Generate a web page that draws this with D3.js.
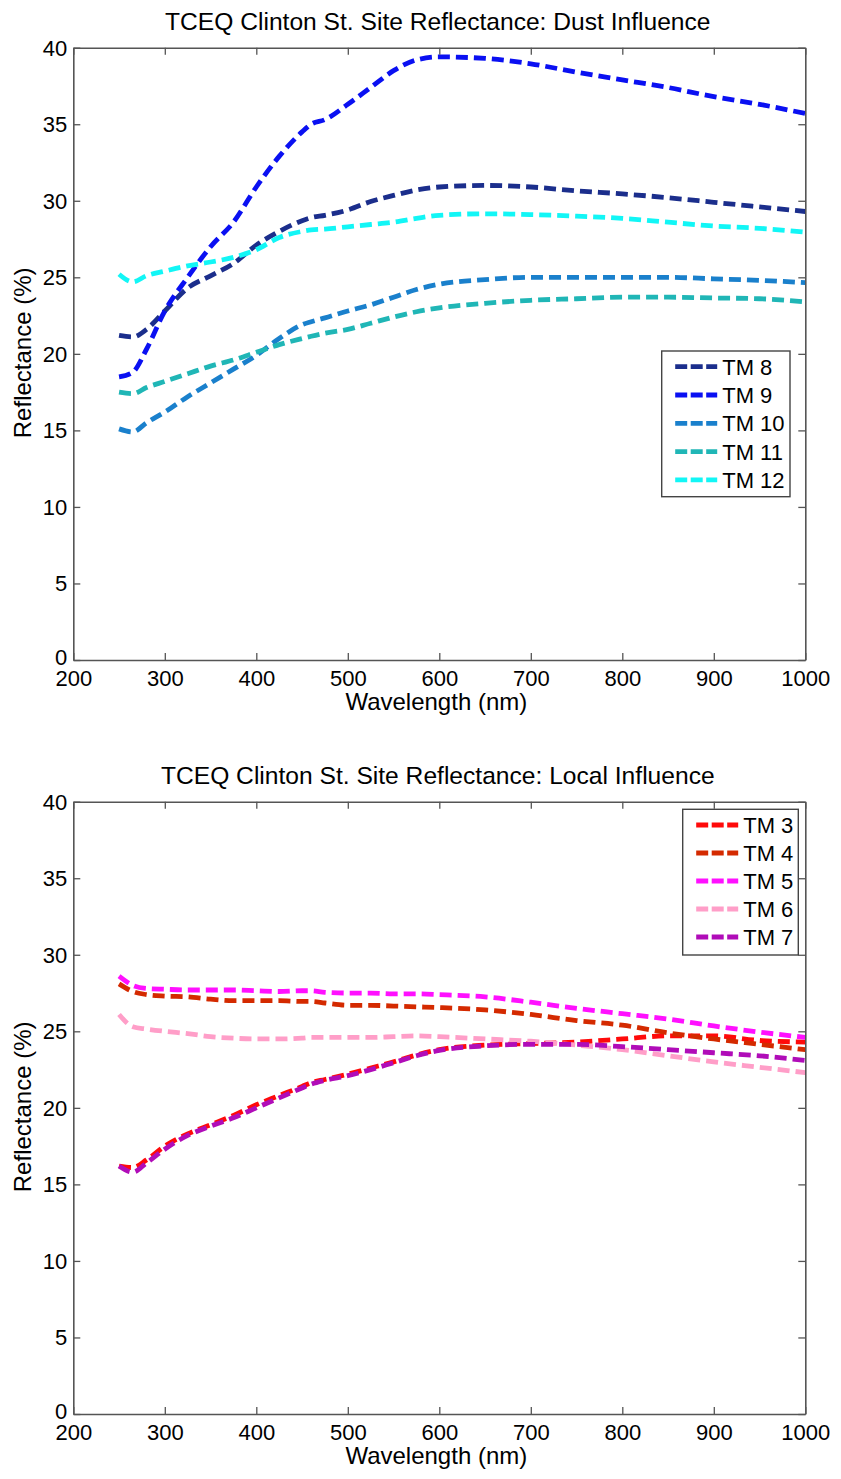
<!DOCTYPE html>
<html>
<head>
<meta charset="utf-8">
<script src="https://cdn.jsdelivr.net/npm/d3@7"></script>
<style>
  html, body { margin: 0; padding: 0; background: #fff; }
  svg { display: block; }
  text { font-family: "Liberation Sans", Arial, sans-serif; fill: #000; }
</style>
</head>
<body>
<svg id="chart" width="841" height="1479"></svg>
<script>
// ---------- data ----------
const wavelengths = [250, 265, 280, 300, 325, 350, 375, 400, 425, 450, 460, 475, 500, 525, 550, 575, 600, 650, 700, 750, 800, 850, 900, 950, 1000];

const xTicks = [200, 300, 400, 500, 600, 700, 800, 900, 1000];
const yTicks = [0, 5, 10, 15, 20, 25, 30, 35, 40];

const dustTitle = "TCEQ Clinton St. Site Reflectance: Dust Influence";
const localTitle = "TCEQ Clinton St. Site Reflectance: Local Influence";
const xLabel = "Wavelength (nm)";
const yLabel = "Reflectance (%)";

const dustNames = ["TM 8", "TM 9", "TM 10", "TM 11", "TM 12"];
const dustColors = ["#1b2e8c", "#0a10f2", "#1a80cc", "#20b6b6", "#12f6f6"];
const tm8  = [21.2, 21.1, 21.6, 22.8, 24.3, 25.1, 25.9, 27.1, 28.0, 28.7, 28.9, 29.05, 29.4, 29.95, 30.35, 30.7, 30.9, 31.0, 30.9, 30.65, 30.45, 30.2, 29.9, 29.6, 29.3];
const tm9  = [18.5, 18.8, 20.3, 22.8, 25.0, 27.0, 28.6, 30.9, 32.9, 34.5, 35.0, 35.3, 36.3, 37.4, 38.5, 39.2, 39.4, 39.3, 38.95, 38.4, 37.9, 37.4, 36.8, 36.3, 35.7];
const tm10 = [15.1, 14.9, 15.5, 16.2, 17.2, 18.1, 19.0, 19.9, 21.0, 21.9, 22.1, 22.35, 22.8, 23.2, 23.7, 24.2, 24.55, 24.85, 25.0, 25.0, 25.0, 25.0, 24.9, 24.8, 24.65];
const tm11 = [17.5, 17.4, 17.8, 18.2, 18.7, 19.2, 19.6, 20.1, 20.6, 21.0, 21.15, 21.35, 21.6, 22.0, 22.4, 22.75, 23.0, 23.3, 23.5, 23.6, 23.7, 23.7, 23.65, 23.6, 23.4];
const tm12 = [25.2, 24.7, 25.1, 25.4, 25.75, 26.0, 26.3, 26.8, 27.6, 28.0, 28.1, 28.15, 28.3, 28.45, 28.6, 28.85, 29.05, 29.15, 29.1, 29.0, 28.85, 28.6, 28.35, 28.2, 27.95];

const localNames = ["TM 3", "TM 4", "TM 5", "TM 6", "TM 7"];
const localColors = ["#ff0a0a", "#d42a00", "#ff10ff", "#ff9ec8", "#b00cb8"];
const tm3 = [16.2, 16.1, 16.6, 17.5, 18.3, 18.9, 19.5, 20.2, 20.8, 21.4, 21.65, 21.85, 22.2, 22.6, 23.0, 23.45, 23.8, 24.1, 24.2, 24.3, 24.5, 24.7, 24.7, 24.4, 24.3];
const tm4 = [28.1, 27.6, 27.4, 27.3, 27.25, 27.1, 27.0, 27.0, 27.0, 26.95, 26.95, 26.85, 26.7, 26.7, 26.65, 26.6, 26.55, 26.4, 26.1, 25.7, 25.4, 24.9, 24.5, 24.15, 23.8];
const tm5 = [28.6, 28.0, 27.8, 27.75, 27.7, 27.7, 27.7, 27.65, 27.6, 27.65, 27.65, 27.55, 27.5, 27.5, 27.45, 27.45, 27.4, 27.25, 26.9, 26.5, 26.15, 25.8, 25.35, 24.95, 24.6];
const tm6 = [26.1, 25.3, 25.15, 25.0, 24.85, 24.65, 24.55, 24.5, 24.5, 24.55, 24.6, 24.6, 24.6, 24.6, 24.65, 24.7, 24.65, 24.5, 24.35, 24.1, 23.8, 23.4, 23.0, 22.65, 22.3];
const tm7 = [16.2, 15.8, 16.4, 17.3, 18.2, 18.8, 19.35, 20.0, 20.65, 21.3, 21.55, 21.8, 22.1, 22.5, 22.95, 23.4, 23.75, 24.05, 24.15, 24.15, 24.0, 23.8, 23.6, 23.4, 23.1];

// ---------- layout ----------
const svg = d3.select("#chart");
const plotLeft = 73.3, plotWidth = 732, plotHeight = 612.3;
const FONT_TICK = 22, FONT_LABEL = 24, FONT_TITLE = 24.6, FONT_LEG = 22;

function drawPanel(opts) {
  const { top, title, names, colors, series, legend } = opts;
  const g = svg.append("g").attr("transform", `translate(${plotLeft},${top})`);
  const x = d3.scaleLinear().domain([200, 1000]).range([0, plotWidth]);
  const y = d3.scaleLinear().domain([0, 40]).range([plotHeight, 0]);

  // lines
  const line = d3.line()
    .x((d, i) => x(wavelengths[i]))
    .y(d => y(d))
    .curve(d3.curveMonotoneX);

  series.forEach((vals, k) => {
    g.append("path")
      .datum(vals)
      .attr("d", line)
      .attr("fill", "none")
      .attr("stroke", colors[k])
      .attr("stroke-width", 4.8)
      .attr("stroke-dasharray", "12,6");
  });

  // axes (ticks inward, all four sides)
  const axisColor = "#555";
  const fmt = d3.format("d");
  const bottom = g.append("g").attr("transform", `translate(0,${plotHeight})`)
    .call(d3.axisBottom(x).tickValues(xTicks).tickFormat(fmt).tickSizeInner(-7).tickSizeOuter(0).tickPadding(10));
  const left = g.append("g")
    .call(d3.axisLeft(y).tickValues(yTicks).tickFormat(fmt).tickSizeInner(-7).tickSizeOuter(0).tickPadding(6));
  const topAx = g.append("g")
    .call(d3.axisTop(x).tickValues(xTicks).tickSizeInner(-7).tickSizeOuter(0).tickFormat(""));
  const right = g.append("g").attr("transform", `translate(${plotWidth},0)`)
    .call(d3.axisRight(y).tickValues(yTicks).tickSizeInner(-7).tickSizeOuter(0).tickFormat(""));

  [bottom, left, topAx, right].forEach(a => {
    a.select(".domain").attr("stroke", axisColor).attr("stroke-width", 1.6);
    a.selectAll(".tick line").attr("stroke", axisColor).attr("stroke-width", 1.3);
    a.selectAll(".tick text")
      .attr("fill", "#000")
      .style("font-family", '"Liberation Sans", Arial, sans-serif')
      .style("font-size", FONT_TICK + "px");
  });
  left.selectAll(".tick text").attr("dy", "0.34em");
  // the "0" sits just above the first x label, as in the original
  left.selectAll(".tick text").filter(d => d === 0).attr("dy", "0.22em");

  // title
  svg.append("text")
    .attr("x", plotLeft + plotWidth / 2 - 1.5)
    .attr("y", top - 18)
    .attr("text-anchor", "middle")
    .style("font-size", FONT_TITLE + "px")
    .text(title);

  // x label
  svg.append("text")
    .attr("x", plotLeft + plotWidth / 2 - 3)
    .attr("y", top + plotHeight + 50)
    .attr("text-anchor", "middle")
    .style("font-size", FONT_LABEL + "px")
    .text(xLabel);

  // y label
  svg.append("text")
    .attr("transform", `translate(31,${top + plotHeight / 2 - 1}) rotate(-90)`)
    .attr("text-anchor", "middle")
    .style("font-size", FONT_LABEL + "px")
    .text(yLabel);

  // legend
  const lg = g.append("g").attr("transform", `translate(${legend.x},${legend.y})`);
  lg.append("rect")
    .attr("x", 0).attr("y", 0)
    .attr("width", legend.w).attr("height", legend.h)
    .attr("fill", "#fff")
    .attr("stroke", "#444")
    .attr("stroke-width", 1.4);
  names.forEach((nm, k) => {
    const cy = legend.first + k * legend.step;
    lg.append("line")
      .attr("x1", 13.5).attr("x2", 55.5)
      .attr("y1", cy).attr("y2", cy)
      .attr("stroke", colors[k])
      .attr("stroke-width", 4.8)
      .attr("stroke-dasharray", "12,3.5");
    lg.append("text")
      .attr("x", 60.5)
      .attr("y", cy)
      .attr("dy", "0.36em")
      .style("font-size", FONT_LEG + "px")
      .text(nm);
  });
}

drawPanel({
  top: 47.7,
  title: dustTitle,
  names: dustNames,
  colors: dustColors,
  series: [tm8, tm9, tm10, tm11, tm12],
  legend: { x: 588.4, y: 303.3, w: 128.3, h: 145.7, first: 15.7, step: 28.3 }
});

drawPanel({
  top: 801.7,
  title: localTitle,
  names: localNames,
  colors: localColors,
  series: [tm3, tm4, tm5, tm6, tm7],
  legend: { x: 609.4, y: 7.6, w: 115.6, h: 145.7, first: 15.7, step: 28.0 }
});
</script>
</body>
</html>
